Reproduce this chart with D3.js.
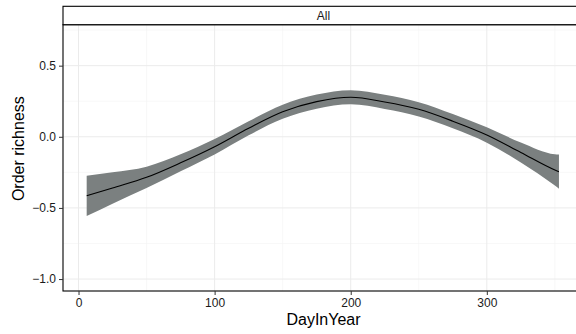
<!DOCTYPE html>
<html>
<head>
<meta charset="utf-8">
<style>
	body { margin: 0; background: #fff; }
	text { font-family: "Liberation Sans", Arial, sans-serif; }
	.grid-major { stroke: #ebebeb; stroke-width: 1px; }
	.grid-minor { stroke: #f3f3f3; stroke-width: 0.6px; }
</style>
</head>
<body>
<script src="https://cdn.jsdelivr.net/npm/d3@7"></script>
<script>

// Smoothed fit
var days  = [6, 25, 50, 75, 100, 125, 150, 175, 200, 225, 250, 275, 300, 325, 350, 353];
var fit   = [-0.415, -0.36, -0.285, -0.183, -0.07, 0.06, 0.176, 0.247, 0.278, 0.245, 0.193, 0.11, 0.013, -0.11, -0.233, -0.245];
var halfw = [0.142, 0.11, 0.075, 0.06, 0.055, 0.05, 0.05, 0.05, 0.05, 0.05, 0.05, 0.05, 0.054, 0.07, 0.11, 0.12];

var xTicks = [0, 100, 200, 300];
var xMinor = [50, 150, 250, 350];
var yTicks = [-1.0, -0.5, 0.0, 0.5];
var yMinor = [-0.75, -0.25, 0.25, 0.75];
var stripLabel = "All";

var W = 576, H = 334;
var panel = {left: 63, right: 584, top: 24.7, bottom: 291};

var svg = d3.select("body").append("svg")
	.attr("width", W)
	.attr("height", H);

var x = d3.scaleLinear().domain([-11.4, 371.4]).range([panel.left, panel.right]);
var y = d3.scaleLinear().domain([-1.084, 0.788]).range([panel.bottom, panel.top]);

var data = days.map(function(d, i) {
	return {day: d, fit: fit[i], lo: fit[i] - halfw[i], hi: fit[i] + halfw[i]};
});

// grid
var g = svg.append("g");
g.selectAll(".gxm").data(xMinor).enter().append("line")
	.attr("class", "grid-minor")
	.attr("x1", function(d) { return x(d); }).attr("x2", function(d) { return x(d); })
	.attr("y1", panel.top).attr("y2", panel.bottom);
g.selectAll(".gym").data(yMinor).enter().append("line")
	.attr("class", "grid-minor")
	.attr("y1", function(d) { return y(d); }).attr("y2", function(d) { return y(d); })
	.attr("x1", panel.left).attr("x2", panel.right);
g.selectAll(".gx").data(xTicks).enter().append("line")
	.attr("class", "grid-major")
	.attr("x1", function(d) { return x(d); }).attr("x2", function(d) { return x(d); })
	.attr("y1", panel.top).attr("y2", panel.bottom);
g.selectAll(".gy").data(yTicks).enter().append("line")
	.attr("class", "grid-major")
	.attr("y1", function(d) { return y(d); }).attr("y2", function(d) { return y(d); })
	.attr("x1", panel.left).attr("x2", panel.right);

// ribbon and line
var area = d3.area()
	.curve(d3.curveMonotoneX)
	.x(function(d) { return x(d.day); })
	.y0(function(d) { return y(d.lo); })
	.y1(function(d) { return y(d.hi); });

var line = d3.line()
	.curve(d3.curveMonotoneX)
	.x(function(d) { return x(d.day); })
	.y(function(d) { return y(d.fit); });

svg.append("path").datum(data)
	.attr("d", area)
	.attr("fill", "#7b8080");

svg.append("path").datum(data)
	.attr("d", line)
	.attr("fill", "none")
	.attr("stroke", "#000")
	.attr("stroke-width", 1.1);

// panel border
svg.append("rect")
	.attr("x", panel.left).attr("y", panel.top)
	.attr("width", panel.right - panel.left).attr("height", panel.bottom - panel.top)
	.attr("fill", "none").attr("stroke", "#000").attr("stroke-width", 1.1);

// strip
svg.append("rect")
	.attr("x", panel.left).attr("y", 6.3)
	.attr("width", panel.right - panel.left).attr("height", panel.top - 6.3)
	.attr("fill", "#fff").attr("stroke", "#000").attr("stroke-width", 1.1);
svg.append("text")
	.attr("x", (panel.left + panel.right) / 2).attr("y", 19.5)
	.attr("text-anchor", "middle")
	.style("font-size", "12px").attr("fill", "#1a1a1a")
	.text(stripLabel);

// axes
var xAxis = svg.append("g")
	.attr("transform", "translate(0," + panel.bottom + ")")
	.call(d3.axisBottom(x).tickValues(xTicks).tickSize(4).tickPadding(3).tickFormat(d3.format("d")));
var yAxis = svg.append("g")
	.attr("transform", "translate(" + panel.left + ",0)")
	.call(d3.axisLeft(y).tickValues(yTicks).tickSize(4).tickPadding(3).tickFormat(d3.format(".1f")));

[xAxis, yAxis].forEach(function(a) {
	a.select(".domain").remove();
	a.selectAll(".tick line").attr("stroke", "#333").attr("stroke-width", 1);
	a.selectAll(".tick text")
		.attr("fill", "#1a1a1a")
		.style("font-family", "'Liberation Sans', Arial, sans-serif")
		.style("font-size", "12px");
});

// axis titles
svg.append("text")
	.attr("x", (panel.left + panel.right) / 2).attr("y", 325)
	.attr("text-anchor", "middle")
	.style("font-size", "16px").attr("fill", "#000")
	.text("DayInYear");

svg.append("text")
	.attr("transform", "translate(24," + ((6.3 + panel.bottom) / 2) + ") rotate(-90)")
	.attr("text-anchor", "middle")
	.style("font-size", "16px").attr("fill", "#000")
	.text("Order richness");

</script>
</body>
</html>
